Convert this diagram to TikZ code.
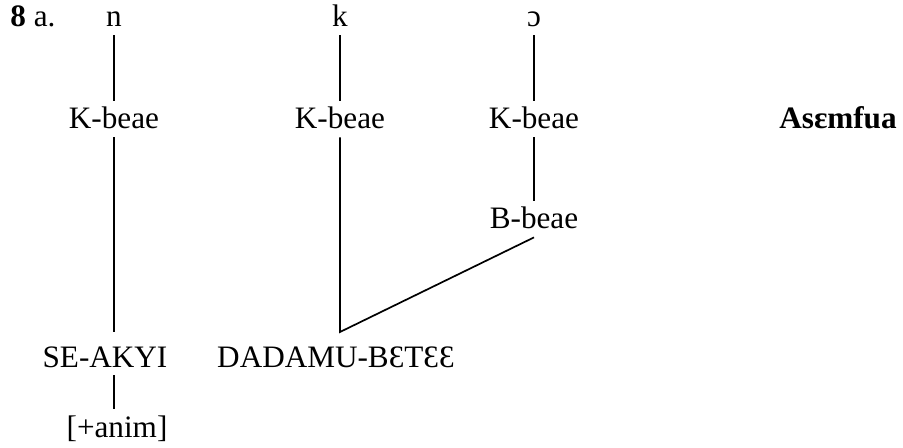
\documentclass[tikz,border=0pt]{standalone}
\usepackage{fontspec}
\setmainfont{Liberation Serif}
\usetikzlibrary{positioning}
\begin{document}
\begin{tikzpicture}[x=0.5pt, y=-0.5pt,
    word/.style={inner sep=2pt, anchor=base, text height=11.7pt, text depth=2pt,
                 font=\fontsize{15.6}{18}\selectfont},
    link/.style={line width=0.85pt}]
    \useasboundingbox (0,0) rectangle (903,448);
    
    % Roots
    \node[word] (ex) at (33, 27) {\textbf{8} a.};
    \node[word] (n) at (114, 27) {n};
    \node[word] (k) at (340, 27) {k};
    \node[word] (o) at (534, 27) {ɔ};
    
    % Stems
    \node[word] (K1) at (114, 129) {K-beae};
    \node[word] (K2) at (340, 129) {K-beae};
    \node[word] (K3) at (534, 129) {K-beae};
    \node[word] (B) at (534, 229) {B-beae};
    \node[word] (title) at (838, 129) {\textbf{Asɛmfua}};
    
    % Words
    \node[word] (sea) at (105, 367) {SE-AKYI};
    \node[word] (dad) at (336, 367) {DADAMU-BƐTƐƐ};
    \node[word] (anim) at (117, 437) {[+anim]};
    \coordinate (c1) at (114, 332);
    \coordinate (j) at (340, 332);
    
    % Lines
    \draw[link] (n) -- (K1);
    \draw[link] (k) -- (K2);
    \draw[link] (o) -- (K3);
    \draw[link] (K3) -- (B);
    \draw[link] (K1) -- (c1);
    \draw[link] (K2) -- (j) -- (B.south);
    \draw[link] (sea.south -| c1) -- (anim.north -| c1);
\end{tikzpicture}
\end{document}
